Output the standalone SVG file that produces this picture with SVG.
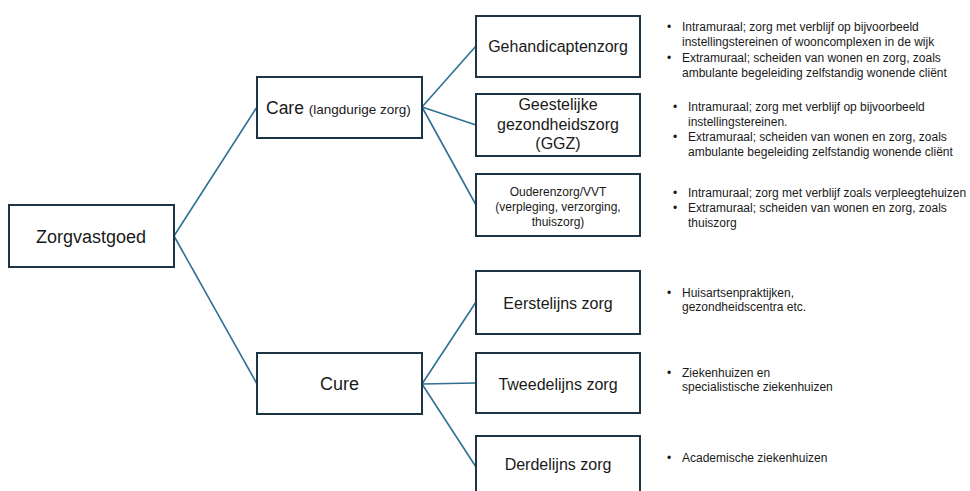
<svg xmlns="http://www.w3.org/2000/svg" width="970" height="491" viewBox="0 0 970 491">
<style>
.box{fill:#fff;stroke:#1c3646;stroke-width:2}
.con{fill:none;stroke:#2e6f92;stroke-width:1.6}
text{font-family:"Liberation Sans",Arial,sans-serif;fill:#1a1a1a}
.t16{font-size:16px;text-anchor:middle}
.t12m{font-size:12px;text-anchor:middle}
.b{font-size:12px}
</style>
<rect width="970" height="491" fill="#fff"/>
<g id="connectors">
<line class="con" x1="174" y1="236" x2="257" y2="107"/>
<line class="con" x1="174" y1="236" x2="257" y2="384"/>
<line class="con" x1="422" y1="107" x2="476" y2="46"/>
<line class="con" x1="422" y1="107" x2="476" y2="125"/>
<line class="con" x1="422" y1="107" x2="476" y2="205"/>
<line class="con" x1="422" y1="384" x2="476" y2="302"/>
<line class="con" x1="422" y1="384" x2="476" y2="383"/>
<line class="con" x1="422" y1="384" x2="476" y2="467"/>
</g>
<g id="zorgvastgoed">
<rect class="box" x="9" y="205" width="165" height="62"/>
<text x="91" y="243" font-size="18" text-anchor="middle">Zorgvastgoed</text>
</g>
<g id="care">
<rect class="box" x="257" y="77" width="165" height="61"/>
<text x="266" y="114" font-size="17.5">Care <tspan font-size="13.5">(langdurige zorg)</tspan></text>
</g>
<g id="cure">
<rect class="box" x="257" y="353" width="165" height="61"/>
<text x="339.5" y="390" font-size="18" text-anchor="middle">Cure</text>
</g>
<g id="gehandicaptenzorg">
<rect class="box" x="476" y="16" width="164" height="61"/>
<text class="t16" x="558" y="52">Gehandicaptenzorg</text>
</g>
<g id="ggz">
<rect class="box" x="476" y="94" width="164" height="62"/>
<text class="t16" x="558" y="110">Geestelijke</text>
<text class="t16" x="558" y="129.5">gezondheidszorg</text>
<text class="t16" x="558" y="149">(GGZ)</text>
</g>
<g id="ouderenzorg">
<rect class="box" x="476" y="174" width="164" height="62"/>
<text class="t12m" x="558" y="196">Ouderenzorg/VVT</text>
<text class="t12m" x="558" y="211">(verpleging, verzorging,</text>
<text class="t12m" x="558" y="226">thuiszorg)</text>
</g>
<g id="eerstelijns">
<rect class="box" x="476" y="271" width="164" height="63"/>
<text class="t16" x="558" y="309">Eerstelijns zorg</text>
</g>
<g id="tweedelijns">
<rect class="box" x="476" y="353" width="164" height="60"/>
<text class="t16" x="558" y="390">Tweedelijns zorg</text>
</g>
<g id="derdelijns">
<rect class="box" x="476" y="436" width="164" height="62"/>
<text class="t16" x="558" y="470">Derdelijns zorg</text>
</g>
<g id="notes">
<text class="b" x="667" y="31">•</text>
<text class="b" x="682" y="31">Intramuraal; zorg met verblijf op bijvoorbeeld</text>
<text class="b" x="682" y="46">instellingstereinen of wooncomplexen in de wijk</text>
<text class="b" x="667" y="61.5">•</text>
<text class="b" x="682" y="61.5">Extramuraal; scheiden van wonen en zorg, zoals</text>
<text class="b" x="682" y="76.5">ambulante begeleiding zelfstandig wonende cliënt</text>

<text class="b" x="673" y="111">•</text>
<text class="b" x="688" y="111">Intramuraal; zorg met verblijf op bijvoorbeeld</text>
<text class="b" x="688" y="125.5">instellingstereinen.</text>
<text class="b" x="673" y="141">•</text>
<text class="b" x="688" y="141">Extramuraal; scheiden van wonen en zorg, zoals</text>
<text class="b" x="688" y="156">ambulante begeleiding zelfstandig wonende cliënt</text>

<text class="b" x="673" y="197">•</text>
<text class="b" x="688" y="197">Intramuraal; zorg met verblijf zoals verpleegtehuizen</text>
<text class="b" x="673" y="211.5">•</text>
<text class="b" x="688" y="211.5">Extramuraal; scheiden van wonen en zorg, zoals</text>
<text class="b" x="688" y="226.5">thuiszorg</text>

<text class="b" x="667" y="297">•</text>
<text class="b" x="682" y="297">Huisartsenpraktijken,</text>
<text class="b" x="682" y="311">gezondheidscentra etc.</text>

<text class="b" x="667" y="377">•</text>
<text class="b" x="682" y="377">Ziekenhuizen en</text>
<text class="b" x="682" y="391">specialistische ziekenhuizen</text>

<text class="b" x="667" y="462">•</text>
<text class="b" x="682" y="462">Academische ziekenhuizen</text>
</g>
</svg>
